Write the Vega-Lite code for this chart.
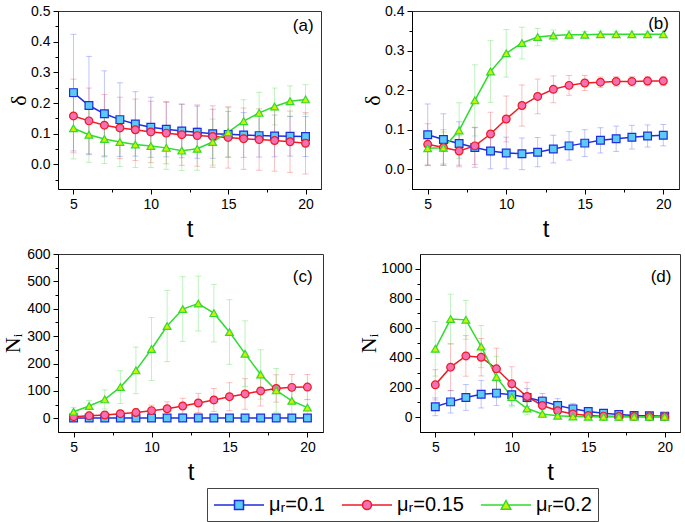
{
 "$schema": "https://vega.github.io/schema/vega-lite/v6.json",
 "padding": {"left": 1, "top": 3, "right": 2, "bottom": 2},
 "background": "white",
 "config": {
  "view": {"stroke": "#333", "strokeWidth": 1},
  "axis": {"labelFont": "Liberation Sans", "labelFontSize": 14, "labelColor": "black", "tickColor": "black", "domainColor": "black", "grid": false, "tickSize": 5, "labelPadding": 3, "titleFontWeight": "normal", "titleColor": "black"},
  "axisX": {"titleFont": "Liberation Sans", "titleFontSize": 24, "titlePadding": 6},
  "axisY": {"titleFont": "Liberation Serif", "titleFontSize": 22, "titlePadding": 0}
 },
 "datasets": {
  "d": [
   {"p":"a","s":"0.1","t":5,"v":0.234,"e":0.19},{"p":"a","s":"0.1","t":6,"v":0.192,"e":0.16},{"p":"a","s":"0.1","t":7,"v":0.165,"e":0.14},{"p":"a","s":"0.1","t":8,"v":0.146,"e":0.12},{"p":"a","s":"0.1","t":9,"v":0.132,"e":0.105},{"p":"a","s":"0.1","t":10,"v":0.121,"e":0.098},{"p":"a","s":"0.1","t":11,"v":0.115,"e":0.09},{"p":"a","s":"0.1","t":12,"v":0.109,"e":0.087},{"p":"a","s":"0.1","t":13,"v":0.105,"e":0.085},{"p":"a","s":"0.1","t":14,"v":0.1,"e":0.08},{"p":"a","s":"0.1","t":15,"v":0.098,"e":0.075},{"p":"a","s":"0.1","t":16,"v":0.096,"e":0.073},{"p":"a","s":"0.1","t":17,"v":0.094,"e":0.07},{"p":"a","s":"0.1","t":18,"v":0.093,"e":0.068},{"p":"a","s":"0.1","t":19,"v":0.092,"e":0.065},{"p":"a","s":"0.1","t":20,"v":0.091,"e":0.065},
   {"p":"a","s":"0.15","t":5,"v":0.158,"e":0.12},{"p":"a","s":"0.15","t":6,"v":0.142,"e":0.107},{"p":"a","s":"0.15","t":7,"v":0.128,"e":0.1},{"p":"a","s":"0.15","t":8,"v":0.119,"e":0.1},{"p":"a","s":"0.15","t":9,"v":0.113,"e":0.1},{"p":"a","s":"0.15","t":10,"v":0.106,"e":0.1},{"p":"a","s":"0.15","t":11,"v":0.102,"e":0.1},{"p":"a","s":"0.15","t":12,"v":0.097,"e":0.1},{"p":"a","s":"0.15","t":13,"v":0.094,"e":0.1},{"p":"a","s":"0.15","t":14,"v":0.091,"e":0.1},{"p":"a","s":"0.15","t":15,"v":0.088,"e":0.1},{"p":"a","s":"0.15","t":16,"v":0.084,"e":0.1},{"p":"a","s":"0.15","t":17,"v":0.081,"e":0.1},{"p":"a","s":"0.15","t":18,"v":0.078,"e":0.1},{"p":"a","s":"0.15","t":19,"v":0.074,"e":0.1},{"p":"a","s":"0.15","t":20,"v":0.069,"e":0.1},
   {"p":"a","s":"0.2","t":5,"v":0.118,"e":0.1},{"p":"a","s":"0.2","t":6,"v":0.097,"e":0.09},{"p":"a","s":"0.2","t":7,"v":0.083,"e":0.08},{"p":"a","s":"0.2","t":8,"v":0.073,"e":0.08},{"p":"a","s":"0.2","t":9,"v":0.065,"e":0.075},{"p":"a","s":"0.2","t":10,"v":0.06,"e":0.07},{"p":"a","s":"0.2","t":11,"v":0.054,"e":0.07},{"p":"a","s":"0.2","t":12,"v":0.045,"e":0.065},{"p":"a","s":"0.2","t":13,"v":0.051,"e":0.07},{"p":"a","s":"0.2","t":14,"v":0.073,"e":0.075},{"p":"a","s":"0.2","t":15,"v":0.105,"e":0.08},{"p":"a","s":"0.2","t":16,"v":0.141,"e":0.07},{"p":"a","s":"0.2","t":17,"v":0.168,"e":0.067},{"p":"a","s":"0.2","t":18,"v":0.189,"e":0.06},{"p":"a","s":"0.2","t":19,"v":0.206,"e":0.05},{"p":"a","s":"0.2","t":20,"v":0.212,"e":0.048},
   {"p":"b","s":"0.1","t":5,"v":0.087,"e":0.078},{"p":"b","s":"0.1","t":6,"v":0.075,"e":0.065},{"p":"b","s":"0.1","t":7,"v":0.065,"e":0.055},{"p":"b","s":"0.1","t":8,"v":0.055,"e":0.05},{"p":"b","s":"0.1","t":9,"v":0.046,"e":0.045},{"p":"b","s":"0.1","t":10,"v":0.041,"e":0.04},{"p":"b","s":"0.1","t":11,"v":0.039,"e":0.04},{"p":"b","s":"0.1","t":12,"v":0.043,"e":0.037},{"p":"b","s":"0.1","t":13,"v":0.051,"e":0.035},{"p":"b","s":"0.1","t":14,"v":0.059,"e":0.036},{"p":"b","s":"0.1","t":15,"v":0.066,"e":0.034},{"p":"b","s":"0.1","t":16,"v":0.073,"e":0.032},{"p":"b","s":"0.1","t":17,"v":0.077,"e":0.032},{"p":"b","s":"0.1","t":18,"v":0.081,"e":0.03},{"p":"b","s":"0.1","t":19,"v":0.084,"e":0.028},{"p":"b","s":"0.1","t":20,"v":0.086,"e":0.027},
   {"p":"b","s":"0.15","t":5,"v":0.063,"e":0.052},{"p":"b","s":"0.15","t":6,"v":0.055,"e":0.045},{"p":"b","s":"0.15","t":7,"v":0.046,"e":0.04},{"p":"b","s":"0.15","t":8,"v":0.059,"e":0.047},{"p":"b","s":"0.15","t":9,"v":0.089,"e":0.055},{"p":"b","s":"0.15","t":10,"v":0.127,"e":0.058},{"p":"b","s":"0.15","t":11,"v":0.161,"e":0.052},{"p":"b","s":"0.15","t":12,"v":0.184,"e":0.044},{"p":"b","s":"0.15","t":13,"v":0.202,"e":0.034},{"p":"b","s":"0.15","t":14,"v":0.212,"e":0.025},{"p":"b","s":"0.15","t":15,"v":0.218,"e":0.019},{"p":"b","s":"0.15","t":16,"v":0.22,"e":0.013},{"p":"b","s":"0.15","t":17,"v":0.222,"e":0.012},{"p":"b","s":"0.15","t":18,"v":0.222,"e":0.012},{"p":"b","s":"0.15","t":19,"v":0.223,"e":0.012},{"p":"b","s":"0.15","t":20,"v":0.223,"e":0.012},
   {"p":"b","s":"0.2","t":5,"v":0.053,"e":0.043},{"p":"b","s":"0.2","t":6,"v":0.054,"e":0.04},{"p":"b","s":"0.2","t":7,"v":0.098,"e":0.07},{"p":"b","s":"0.2","t":8,"v":0.174,"e":0.09},{"p":"b","s":"0.2","t":9,"v":0.247,"e":0.078},{"p":"b","s":"0.2","t":10,"v":0.293,"e":0.06},{"p":"b","s":"0.2","t":11,"v":0.319,"e":0.04},{"p":"b","s":"0.2","t":12,"v":0.334,"e":0.022},{"p":"b","s":"0.2","t":13,"v":0.338,"e":0.014},{"p":"b","s":"0.2","t":14,"v":0.34,"e":0.01},{"p":"b","s":"0.2","t":15,"v":0.34,"e":0.008},{"p":"b","s":"0.2","t":16,"v":0.341,"e":0.008},{"p":"b","s":"0.2","t":17,"v":0.341,"e":0.008},{"p":"b","s":"0.2","t":18,"v":0.341,"e":0.008},{"p":"b","s":"0.2","t":19,"v":0.341,"e":0.008},{"p":"b","s":"0.2","t":20,"v":0.341,"e":0.008},
   {"p":"c","s":"0.1","t":5,"v":1,"e":2},{"p":"c","s":"0.1","t":6,"v":1,"e":2},{"p":"c","s":"0.1","t":7,"v":1,"e":2},{"p":"c","s":"0.1","t":8,"v":1,"e":2},{"p":"c","s":"0.1","t":9,"v":1,"e":2},{"p":"c","s":"0.1","t":10,"v":1,"e":2},{"p":"c","s":"0.1","t":11,"v":1,"e":2},{"p":"c","s":"0.1","t":12,"v":1,"e":2},{"p":"c","s":"0.1","t":13,"v":1,"e":2},{"p":"c","s":"0.1","t":14,"v":1,"e":2},{"p":"c","s":"0.1","t":15,"v":1,"e":2},{"p":"c","s":"0.1","t":16,"v":1,"e":2},{"p":"c","s":"0.1","t":17,"v":1,"e":2},{"p":"c","s":"0.1","t":18,"v":1,"e":2},{"p":"c","s":"0.1","t":19,"v":1,"e":2},{"p":"c","s":"0.1","t":20,"v":1,"e":2},
   {"p":"c","s":"0.15","t":5,"v":6,"e":5},{"p":"c","s":"0.15","t":6,"v":9,"e":6},{"p":"c","s":"0.15","t":7,"v":12,"e":8},{"p":"c","s":"0.15","t":8,"v":17,"e":10},{"p":"c","s":"0.15","t":9,"v":21,"e":15},{"p":"c","s":"0.15","t":10,"v":28,"e":20},{"p":"c","s":"0.15","t":11,"v":35,"e":25},{"p":"c","s":"0.15","t":12,"v":45,"e":28},{"p":"c","s":"0.15","t":13,"v":56,"e":35},{"p":"c","s":"0.15","t":14,"v":67,"e":42},{"p":"c","s":"0.15","t":15,"v":79,"e":51},{"p":"c","s":"0.15","t":16,"v":89,"e":56},{"p":"c","s":"0.15","t":17,"v":100,"e":55},{"p":"c","s":"0.15","t":18,"v":109,"e":50},{"p":"c","s":"0.15","t":19,"v":113,"e":47},{"p":"c","s":"0.15","t":20,"v":114,"e":46},
   {"p":"c","s":"0.2","t":5,"v":24,"e":15},{"p":"c","s":"0.2","t":6,"v":45,"e":20},{"p":"c","s":"0.2","t":7,"v":69,"e":35},{"p":"c","s":"0.2","t":8,"v":114,"e":60},{"p":"c","s":"0.2","t":9,"v":175,"e":85},{"p":"c","s":"0.2","t":10,"v":253,"e":115},{"p":"c","s":"0.2","t":11,"v":337,"e":130},{"p":"c","s":"0.2","t":12,"v":399,"e":118},{"p":"c","s":"0.2","t":13,"v":419,"e":100},{"p":"c","s":"0.2","t":14,"v":384,"e":105},{"p":"c","s":"0.2","t":15,"v":315,"e":118},{"p":"c","s":"0.2","t":16,"v":236,"e":120},{"p":"c","s":"0.2","t":17,"v":160,"e":90},{"p":"c","s":"0.2","t":18,"v":102,"e":80},{"p":"c","s":"0.2","t":19,"v":64,"e":55},{"p":"c","s":"0.2","t":20,"v":39,"e":30},
   {"p":"d","s":"0.1","t":5,"v":70,"e":60},{"p":"d","s":"0.1","t":6,"v":103,"e":75},{"p":"d","s":"0.1","t":7,"v":133,"e":87},{"p":"d","s":"0.1","t":8,"v":155,"e":93},{"p":"d","s":"0.1","t":9,"v":162,"e":83},{"p":"d","s":"0.1","t":10,"v":151,"e":70},{"p":"d","s":"0.1","t":11,"v":133,"e":60},{"p":"d","s":"0.1","t":12,"v":108,"e":52},{"p":"d","s":"0.1","t":13,"v":79,"e":46},{"p":"d","s":"0.1","t":14,"v":56,"e":35},{"p":"d","s":"0.1","t":15,"v":38,"e":28},{"p":"d","s":"0.1","t":16,"v":27,"e":20},{"p":"d","s":"0.1","t":17,"v":18,"e":15},{"p":"d","s":"0.1","t":18,"v":11,"e":12},{"p":"d","s":"0.1","t":19,"v":9,"e":10},{"p":"d","s":"0.1","t":20,"v":7,"e":8},
   {"p":"d","s":"0.15","t":5,"v":218,"e":102},{"p":"d","s":"0.15","t":6,"v":337,"e":158},{"p":"d","s":"0.15","t":7,"v":413,"e":137},{"p":"d","s":"0.15","t":8,"v":404,"e":126},{"p":"d","s":"0.15","t":9,"v":326,"e":139},{"p":"d","s":"0.15","t":10,"v":225,"e":115},{"p":"d","s":"0.15","t":11,"v":139,"e":96},{"p":"d","s":"0.15","t":12,"v":79,"e":60},{"p":"d","s":"0.15","t":13,"v":43,"e":37},{"p":"d","s":"0.15","t":14,"v":22,"e":25},{"p":"d","s":"0.15","t":15,"v":11,"e":15},{"p":"d","s":"0.15","t":16,"v":7,"e":10},{"p":"d","s":"0.15","t":17,"v":5,"e":8},{"p":"d","s":"0.15","t":18,"v":4,"e":6},{"p":"d","s":"0.15","t":19,"v":3,"e":5},{"p":"d","s":"0.15","t":20,"v":3,"e":5},
   {"p":"d","s":"0.2","t":5,"v":461,"e":184},{"p":"d","s":"0.2","t":6,"v":661,"e":167},{"p":"d","s":"0.2","t":7,"v":656,"e":131},{"p":"d","s":"0.2","t":8,"v":476,"e":142},{"p":"d","s":"0.2","t":9,"v":270,"e":140},{"p":"d","s":"0.2","t":10,"v":135,"e":65},{"p":"d","s":"0.2","t":11,"v":58,"e":42},{"p":"d","s":"0.2","t":12,"v":22,"e":25},{"p":"d","s":"0.2","t":13,"v":9,"e":12},{"p":"d","s":"0.2","t":14,"v":4,"e":6},{"p":"d","s":"0.2","t":15,"v":2,"e":4},{"p":"d","s":"0.2","t":16,"v":2,"e":3},{"p":"d","s":"0.2","t":17,"v":2,"e":3},{"p":"d","s":"0.2","t":18,"v":2,"e":3},{"p":"d","s":"0.2","t":19,"v":2,"e":3},{"p":"d","s":"0.2","t":20,"v":2,"e":3}
  ]
 },
 "vconcat": [
  {"hconcat": [
   {"width": 263, "height": 178, "data": {"name": "d"}, "transform": [{"filter": "datum.p==='a'"}],
    "resolve": {"axis": {"x": "independent", "y": "independent"}},
    "layer": [
     {"mark": {"type": "errorbar", "ticks": {"size": 6}, "opacity": 0.35, "thickness": 1},
      "encoding": {"x": {"field": "t", "type": "quantitative", "scale": {"domain": [4, 21], "nice": false}, "axis": {"orient": "bottom", "values": [7.5, 12.5, 17.5], "labels": false, "title": null, "domain": false, "tickSize": 3}},
       "y": {"field": "v", "type": "quantitative", "scale": {"domain": [-0.08, 0.5], "nice": false}, "axis": {"orient": "left", "values": [-0.05, 0.05, 0.15, 0.25, 0.35, 0.45], "labels": false, "title": null, "domain": false, "tickSize": 3}},
       "yError": {"field": "e"},
       "color": {"field": "s", "type": "nominal", "scale": {"range": ["#4a5cf0", "#f04a4a", "#44dd44"]}, "legend": null}}},
     {"mark": {"type": "line", "strokeWidth": 1.5},
      "encoding": {"x": {"field": "t", "type": "quantitative", "axis": {"orient": "bottom", "values": [5, 10, 15, 20], "title": "t"}},
       "y": {"field": "v", "type": "quantitative", "axis": {"orient": "left", "values": [0, 0.1, 0.2, 0.3, 0.4, 0.5], "format": ".1f", "title": "δ"}},
       "stroke": {"field": "s", "type": "nominal", "scale": {"domain": ["0.1", "0.15", "0.2"], "range": ["#1d2ee0", "#ee1b24", "#2fdc2f"]},
        "legend": {"orient": "none", "legendX": 149, "legendY": 477, "direction": "horizontal", "title": null, "padding": 6, "strokeColor": "#444", "fillColor": "white", "labelFont": "Liberation Sans", "labelFontSize": 20, "labelColor": "black", "symbolSize": 400, "symbolStrokeWidth": 1.5, "labelOffset": 34, "columnPadding": 14, "labelExpr": "'μᵣ=' + datum.label",
         "encode": {"symbols": {"update": {
          "shape": {"signal": "datum.value==='0.1' ? 'M-1,0H1.05M1.95,0H4M1.05,-0.45H1.95V0.45H1.05Z' : datum.value==='0.15' ? 'M-1,0H1.05M1.95,0H4M1.05,0A0.45,0.45,0,1,0,1.95,0A0.45,0.45,0,1,0,1.05,0Z' : 'M-1,0H1.23M1.77,0H4M1.02,0.42L1.5,-0.45L1.98,0.42Z'"},
          "fill": {"signal": "datum.value==='0.1' ? '#5ccbf3' : datum.value==='0.15' ? '#f56fb3' : '#d2ee00'"},
          "fillOpacity": {"value": 1}}}}}}}},
     {"mark": {"type": "point", "filled": true, "size": 60, "strokeWidth": 1.2, "opacity": 1},
      "encoding": {"x": {"field": "t", "type": "quantitative", "axis": null}, "y": {"field": "v", "type": "quantitative", "axis": null},
       "stroke": {"field": "s", "type": "nominal"},
       "fill": {"field": "s", "type": "nominal", "scale": {"range": ["#5ccbf3", "#f56fb3", "#d2ee00"]}, "legend": null},
       "shape": {"field": "s", "type": "nominal", "scale": {"range": ["square", "circle", "triangle-up"]}, "legend": null}}},
     {"data": {"values": [{}]}, "mark": {"type": "text", "font": "Liberation Sans", "fontSize": 17, "color": "black"},
      "encoding": {"x": {"datum": 19.85, "type": "quantitative", "axis": null}, "y": {"datum": 0.451, "type": "quantitative", "axis": null}, "text": {"value": "(a)"}}}
    ]},
   {"width": 267, "height": 178, "data": {"name": "d"}, "transform": [{"filter": "datum.p==='b'"}],
    "resolve": {"axis": {"x": "independent", "y": "independent"}},
    "layer": [
     {"mark": {"type": "errorbar", "ticks": {"size": 6}, "opacity": 0.35, "thickness": 1},
      "encoding": {"x": {"field": "t", "type": "quantitative", "scale": {"domain": [4, 21], "nice": false}, "axis": {"orient": "bottom", "values": [7.5, 12.5, 17.5], "labels": false, "title": null, "domain": false, "tickSize": 3}},
       "y": {"field": "v", "type": "quantitative", "scale": {"domain": [-0.05, 0.4], "nice": false}, "axis": {"orient": "left", "values": [0.05, 0.15, 0.25, 0.35], "labels": false, "title": null, "domain": false, "tickSize": 3}},
       "yError": {"field": "e"},
       "color": {"field": "s", "type": "nominal", "legend": null}}},
     {"mark": {"type": "line", "strokeWidth": 1.5},
      "encoding": {"x": {"field": "t", "type": "quantitative", "axis": {"orient": "bottom", "values": [5, 10, 15, 20], "title": "t"}},
       "y": {"field": "v", "type": "quantitative", "axis": {"orient": "left", "values": [0, 0.1, 0.2, 0.3, 0.4], "format": ".1f", "title": "δ"}},
       "stroke": {"field": "s", "type": "nominal"}}},
     {"mark": {"type": "point", "filled": true, "size": 60, "strokeWidth": 1.2, "opacity": 1},
      "encoding": {"x": {"field": "t", "type": "quantitative", "axis": null}, "y": {"field": "v", "type": "quantitative", "axis": null},
       "stroke": {"field": "s", "type": "nominal"},
       "fill": {"field": "s", "type": "nominal", "legend": null},
       "shape": {"field": "s", "type": "nominal", "legend": null}}},
     {"data": {"values": [{}]}, "mark": {"type": "text", "font": "Liberation Sans", "fontSize": 17, "color": "black"},
      "encoding": {"x": {"datum": 19.7, "type": "quantitative", "axis": null}, "y": {"datum": 0.368, "type": "quantitative", "axis": null}, "text": {"value": "(b)"}}}
    ]}
  ], "spacing": 39},
  {"hconcat": [
   {"width": 265, "height": 178, "data": {"name": "d"}, "transform": [{"filter": "datum.p==='c'"}],
    "resolve": {"axis": {"x": "independent", "y": "independent"}},
    "layer": [
     {"mark": {"type": "errorbar", "ticks": {"size": 6}, "opacity": 0.35, "thickness": 1},
      "encoding": {"x": {"field": "t", "type": "quantitative", "scale": {"domain": [4, 21], "nice": false}, "axis": {"orient": "bottom", "values": [7.5, 12.5, 17.5], "labels": false, "title": null, "domain": false, "tickSize": 3}},
       "y": {"field": "v", "type": "quantitative", "scale": {"domain": [-50, 600], "nice": false}, "axis": {"orient": "left", "values": [50, 150, 250, 350, 450, 550], "labels": false, "title": null, "domain": false, "tickSize": 3}},
       "yError": {"field": "e"},
       "color": {"field": "s", "type": "nominal", "legend": null}}},
     {"mark": {"type": "line", "strokeWidth": 1.5},
      "encoding": {"x": {"field": "t", "type": "quantitative", "axis": {"orient": "bottom", "values": [5, 10, 15, 20], "title": "t"}},
       "y": {"field": "v", "type": "quantitative", "axis": {"orient": "left", "values": [0, 100, 200, 300, 400, 500, 600], "format": "d", "title": "Nᵢ", "titlePadding": 2}},
       "stroke": {"field": "s", "type": "nominal"}}},
     {"mark": {"type": "point", "filled": true, "size": 60, "strokeWidth": 1.2, "opacity": 1},
      "encoding": {"x": {"field": "t", "type": "quantitative", "axis": null}, "y": {"field": "v", "type": "quantitative", "axis": null},
       "stroke": {"field": "s", "type": "nominal"},
       "fill": {"field": "s", "type": "nominal", "legend": null},
       "shape": {"field": "s", "type": "nominal", "legend": null}}},
     {"data": {"values": [{}]}, "mark": {"type": "text", "font": "Liberation Sans", "fontSize": 17, "color": "black"},
      "encoding": {"x": {"datum": 19.7, "type": "quantitative", "axis": null}, "y": {"datum": 517, "type": "quantitative", "axis": null}, "text": {"value": "(c)"}}}
    ]},
   {"width": 260, "height": 178, "data": {"name": "d"}, "transform": [{"filter": "datum.p==='d'"}],
    "resolve": {"axis": {"x": "independent", "y": "independent"}},
    "layer": [
     {"mark": {"type": "errorbar", "ticks": {"size": 6}, "opacity": 0.35, "thickness": 1},
      "encoding": {"x": {"field": "t", "type": "quantitative", "scale": {"domain": [4, 21], "nice": false}, "axis": {"orient": "bottom", "values": [7.5, 12.5, 17.5], "labels": false, "title": null, "domain": false, "tickSize": 3}},
       "y": {"field": "v", "type": "quantitative", "scale": {"domain": [-100, 1100], "nice": false}, "axis": {"orient": "left", "values": [100, 300, 500, 700, 900], "labels": false, "title": null, "domain": false, "tickSize": 3}},
       "yError": {"field": "e"},
       "color": {"field": "s", "type": "nominal", "legend": null}}},
     {"mark": {"type": "line", "strokeWidth": 1.5},
      "encoding": {"x": {"field": "t", "type": "quantitative", "axis": {"orient": "bottom", "values": [5, 10, 15, 20], "title": "t"}},
       "y": {"field": "v", "type": "quantitative", "axis": {"orient": "left", "values": [0, 200, 400, 600, 800, 1000], "format": "d", "title": "Nᵢ"}},
       "stroke": {"field": "s", "type": "nominal"}}},
     {"mark": {"type": "point", "filled": true, "size": 60, "strokeWidth": 1.2, "opacity": 1},
      "encoding": {"x": {"field": "t", "type": "quantitative", "axis": null}, "y": {"field": "v", "type": "quantitative", "axis": null},
       "stroke": {"field": "s", "type": "nominal"},
       "fill": {"field": "s", "type": "nominal", "legend": null},
       "shape": {"field": "s", "type": "nominal", "legend": null}}},
     {"data": {"values": [{}]}, "mark": {"type": "text", "font": "Liberation Sans", "fontSize": 17, "color": "black"},
      "encoding": {"x": {"datum": 19.76, "type": "quantitative", "axis": null}, "y": {"datum": 946, "type": "quantitative", "axis": null}, "text": {"value": "(d)"}}}
    ]}
  ], "spacing": 33}
 ],
 "spacing": 4
}
